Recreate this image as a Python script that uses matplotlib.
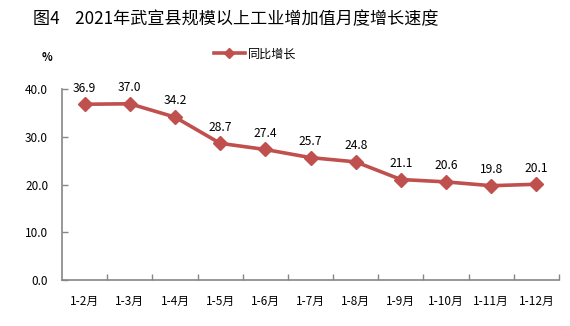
import matplotlib
matplotlib.use("Agg")
import matplotlib.pyplot as plt
from matplotlib.lines import Line2D

plt.rcParams['font.family'] = ['Noto Sans CJK SC', 'DejaVu Sans']

categories = ["1-2月", "1-3月", "1-4月", "1-5月", "1-6月", "1-7月", "1-8月", "1-9月", "1-10月", "1-11月", "1-12月"]
values = [36.9, 37.0, 34.2, 28.7, 27.4, 25.7, 24.8, 21.1, 20.6, 19.8, 20.1]
yticks = [0, 10, 20, 30, 40]
series_name = "同比增长"
title = "图4    2021年武宣县规模以上工业增加值月度增长速度"

color = "#C0504D"
axis_color = "#868686"

fig = plt.figure(figsize=(5.7, 3.26), dpi=100)
ax = fig.add_axes([0.1088, 0.1411, 0.8719, 0.5844])

x = list(range(len(categories)))
ax.plot(x, values, color=color, lw=2.6, marker="D", markersize=7,
        markeredgecolor=color, markerfacecolor=color)

for xi, v in zip(x, values):
    ax.annotate(f"{v:.1f}", (xi, v), xytext=(0, 7), textcoords="offset points",
                ha="center", va="bottom", fontsize=8.7, color="#000000")

ax.set_xlim(-0.5, len(categories) - 0.5)
ax.set_ylim(0, 40)
ax.set_yticks(yticks)
ax.set_yticklabels([f"{t:.1f}" for t in yticks], fontsize=8.5)
ax.set_xticks(x)
ax.set_xticklabels(categories, fontsize=8.5)
ax.set_xticks([i + 0.5 for i in range(len(categories))], minor=True)

ax.tick_params(axis="x", which="major", length=0, pad=11)
ax.tick_params(axis="x", which="minor", length=4, direction="in", color=axis_color, width=1)
ax.tick_params(axis="y", which="major", length=4, direction="in", color=axis_color, width=1, pad=10)

for s in ["top", "right"]:
    ax.spines[s].set_visible(False)
for s in ["left", "bottom"]:
    ax.spines[s].set_color(axis_color)
    ax.spines[s].set_linewidth(1.2)

fig.text(0.058, 0.942, title, fontsize=12.3, ha="left", va="center", color="#000000")
fig.text(0.083, 0.825, "%", fontsize=8, ha="center", va="center", fontweight="bold")

handle = Line2D([], [], color=color, lw=2.6, marker="D", markersize=5)
fig.legend([handle], [series_name], loc="center", bbox_to_anchor=(0.447, 0.835),
           frameon=False, fontsize=8.7, handlelength=2.6, handletextpad=0.2)

fig.savefig("out.png", dpi=100)
